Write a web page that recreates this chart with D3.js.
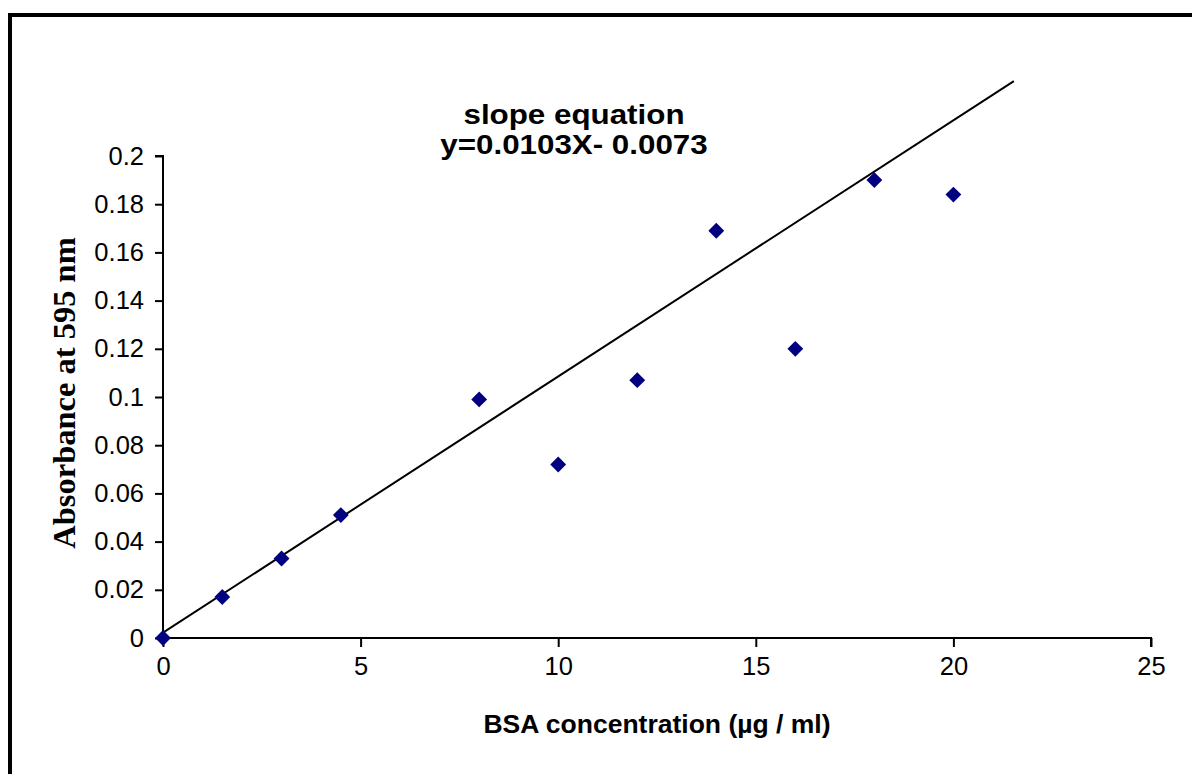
<!DOCTYPE html>
<html>
<head>
<meta charset="utf-8">
<script src="https://d3js.org/d3.v7.min.js"></script>
<style>
	body { margin: 0; background: #fff; }
	svg { display: block; }
	text { font-family: Arial, "Liberation Sans", sans-serif; fill: #000; }
</style>
</head>
<body>
<svg id="chart" width="1192" height="774"></svg>
<script>
var concentration = [0, 1.5, 3, 4.5, 8, 10, 12, 14, 16, 18, 20];
var absorbance = [0, 0.017, 0.033, 0.051, 0.099, 0.072, 0.107, 0.169, 0.120, 0.190, 0.184];
var xTicks = [0, 5, 10, 15, 20, 25];
var yTicks = [0, 0.02, 0.04, 0.06, 0.08, 0.1, 0.12, 0.14, 0.16, 0.18, 0.2];
// trendline as drawn in the picture (start and end)
var trendX = [0, 21.53];
var trendY = [0.0022, 0.2311];
var titleLines = ["slope equation", "y=0.0103X- 0.0073"];

var svg = d3.select("#chart");

svg.append("rect")
	.attr("x", 10)
	.attr("y", 15)
	.attr("width", 1300)
	.attr("height", 900)
	.attr("fill", "none")
	.attr("stroke", "#000")
	.attr("stroke-width", 4);

var x = d3.scaleLinear().domain([0, 25]).range([163, 1151]);
var y = d3.scaleLinear().domain([0, 0.2]).range([638, 156]);

var xAxis = svg.append("g")
	.attr("transform", "translate(0," + y(0) + ")")
	.call(d3.axisBottom(x).tickValues(xTicks).tickSize(9).tickPadding(10).tickFormat(d3.format("d")));

var yAxis = svg.append("g")
	.attr("transform", "translate(" + x(0) + ",0)")
	.call(d3.axisLeft(y).tickValues(yTicks).tickSize(8).tickPadding(11).tickFormat(function(d) { return String(+d.toFixed(2)); }));

[xAxis, yAxis].forEach(function(g) {
	g.select(".domain").attr("stroke-width", 2).attr("stroke", "#000");
	g.selectAll(".tick line").attr("stroke-width", 2).attr("stroke", "#000");
	g.selectAll(".tick text")
		.style("font-family", "Arial, 'Liberation Sans', sans-serif")
		.style("font-size", "25.5px")
		.attr("fill", "#000");
});
// corner ticks at the ends, like the original
xAxis.select(".domain").attr("d", "M" + x(0) + ",0H" + x(25) + "V9");
yAxis.select(".domain").attr("d", "M-8," + y(0.2) + "H0V" + y(0));

svg.append("line")
	.attr("x1", x(trendX[0]))
	.attr("y1", y(trendY[0]))
	.attr("x2", x(trendX[1]))
	.attr("y2", y(trendY[1]))
	.attr("stroke", "#000")
	.attr("stroke-width", 2);

svg.append("g").selectAll("path")
	.data(concentration)
	.enter()
	.append("path")
	.attr("d", d3.symbol().type(d3.symbolDiamond2).size(160))
	.attr("fill", "#000080")
	.attr("transform", function(d, i) { return "translate(" + x(d) + "," + y(absorbance[i]) + ")"; });

// title glyphs are a bit wider than they are tall in the original
svg.append("g").selectAll("text")
	.data(titleLines)
	.enter()
	.append("text")
	.attr("transform", function(d, i) { return "translate(574," + (124 + i * 30) + ") scale(1.14,1)"; })
	.attr("text-anchor", "middle")
	.style("font-weight", "bold")
	.style("font-size", "27.5px")
	.text(function(d) { return d; });

svg.append("text")
	.attr("x", 657)
	.attr("y", 733)
	.attr("text-anchor", "middle")
	.style("font-weight", "bold")
	.style("font-size", "26.5px")
	.text("BSA concentration (µg / ml)");

svg.append("text")
	.attr("transform", "translate(75,393) rotate(-90)")
	.attr("text-anchor", "middle")
	.style("font-family", "'Times New Roman', 'Liberation Serif', serif")
	.style("font-weight", "bold")
	.style("font-size", "32.5px")
	.text("Absorbance at 595 nm");
</script>
</body>
</html>
